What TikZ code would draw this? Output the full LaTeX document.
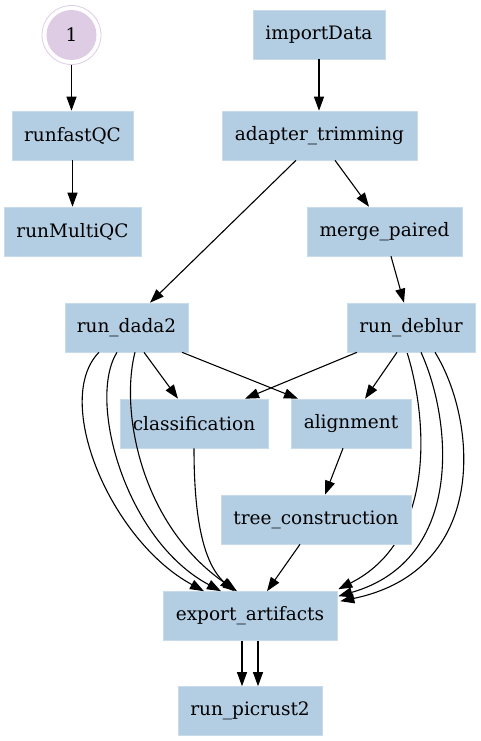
\documentclass[tikz,border=0pt]{standalone}
\usepackage{fontspec}
\setmainfont{DejaVu Serif}
\usetikzlibrary{arrows.meta,calc}
\definecolor{boxfill}{HTML}{B3CDE3}
\definecolor{boxline}{HTML}{C9DBEA}
\definecolor{lilac}{HTML}{DECBE4}
\pgfdeclarelayer{bg}
\pgfsetlayers{bg,main}
\tikzset{
  pbox/.style={rectangle, fill=boxfill, draw=boxline, line width=0.6pt, inner sep=0pt,
    minimum height=49pt, font=\fontsize{18.5}{22}\selectfont},
  conn/.style={line width=1.1pt, -{Triangle[length=14pt,width=10pt]}},
}
\begin{document}
\begin{tikzpicture}[x=1pt,y=-1pt]
\useasboundingbox (0,0) rectangle (480,741);
% nodes
\node[circle, draw=lilac, line width=0.8pt, minimum size=59pt, inner sep=0pt] (c1) at (71.5,35) {};
\node[circle, fill=lilac, minimum size=50pt, inner sep=0pt, font=\fontsize{18.5}{22}\selectfont] (c1in) at (c1) {1};
\node[pbox, minimum width=132pt] (imp) at (319,34.5) {importData};
\node[pbox, minimum width=121pt] (fqc) at (72.5,135.5) {runfastQC};
\node[pbox, minimum width=195pt] (adp) at (319.5,135.5) {adapter\_trimming};
\node[pbox, minimum width=137pt] (mqc) at (72.5,231.5) {runMultiQC};
\node[pbox, minimum width=155pt] (mrg) at (384.5,231.5) {merge\_paired};
\node[pbox, minimum width=123pt] (dada) at (126.5,327.5) {run\_dada2};
\node[pbox, minimum width=128pt] (deb) at (411,327.5) {run\_deblur};
\node[pbox, minimum width=148pt] (cls) at (194,423.5) {classification};
\node[pbox, minimum width=120pt] (aln) at (351,423.5) {alignment};
\node[pbox, minimum width=190pt] (tree) at (316,519.5) {tree\_construction};
\node[pbox, minimum width=174pt] (exp) at (250,616) {export\_artifacts};
\node[pbox, minimum width=144pt] (pic) at (250,711) {run\_picrust2};
% edges
\begin{pgfonlayer}{bg}
% run_deblur -> export_artifacts (passes behind tree_construction)
\draw[conn] ($(deb.south)+(-4,0)$) .. controls (428,420) and (436,540) .. ($(exp.north east)+(1,-2)$);
\end{pgfonlayer}
\draw[conn] (c1.south) -- (c1.south |- fqc.north);
\draw[conn] (fqc.south) -- (mqc.north);
\draw[conn] (imp.south) -- (imp.south |- adp.north);
\draw[conn] ($(adp.south)+(-23.5,0)$) -- ($(dada.north)+(23.5,0)$);
\draw[conn] ($(adp.south)+(15.5,0)$) -- ($(mrg.north)+(-15.5,0)$);
\draw[conn] ($(mrg.south)+(6.5,0)$) -- ($(deb.north)+(-7,0)$);
\draw[conn] ($(dada.south)+(17.5,0)$) -- ($(cls.north)+(-16,0)$);
\draw[conn] ($(dada.south)+(55.5,0)$) -- ($(aln.north)+(-53,0)$);
\draw[conn] ($(deb.south)+(-54,0)$) -- ($(cls.north)+(51,0)$);
\draw[conn] ($(deb.south)+(-14,0)$) -- ($(aln.north)+(14,0)$);
\draw[conn] ($(aln.south)+(-8,0)$) -- ($(tree.north)+(9,0)$);
\draw[conn] ($(tree.south)+(-16,0)$) -- ($(exp.north)+(17,0)$);
% run_dada2 -> export_artifacts (three)
\draw[conn] ($(dada.south)+(-27.5,0)$) .. controls (52,400) and (110,540) .. ($(exp.north)+(-46,0)$);
\draw[conn] ($(dada.south)+(-9.5,0)$) .. controls (87,400) and (125,540) .. ($(exp.north)+(-29,0)$);
\draw[conn] ($(dada.south)+(8.5,0)$) .. controls (120,410) and (140,525) .. ($(exp.north)+(-13,0)$);
% classification -> export_artifacts
\draw[conn] (cls.south) .. controls (194,505) and (200,560) .. ($(exp.north)+(-16,0)$);
% run_deblur -> export_artifacts (two more)
\draw[conn] ($(deb.south)+(10,0)$) .. controls (452,420) and (465,560) .. ($(exp.north east)+(1,5)$);
\draw[conn] ($(deb.south)+(24,0)$) .. controls (477,420) and (490,570) .. ($(exp.north east)+(3,10)$);
% export_artifacts -> run_picrust2 (two)
\draw[conn] ($(exp.south)+(-8,0)$) -- ($(pic.north)+(-8,0)$);
\draw[conn] ($(exp.south)+(8,0)$) -- ($(pic.north)+(8,0)$);
\end{tikzpicture}
\end{document}
